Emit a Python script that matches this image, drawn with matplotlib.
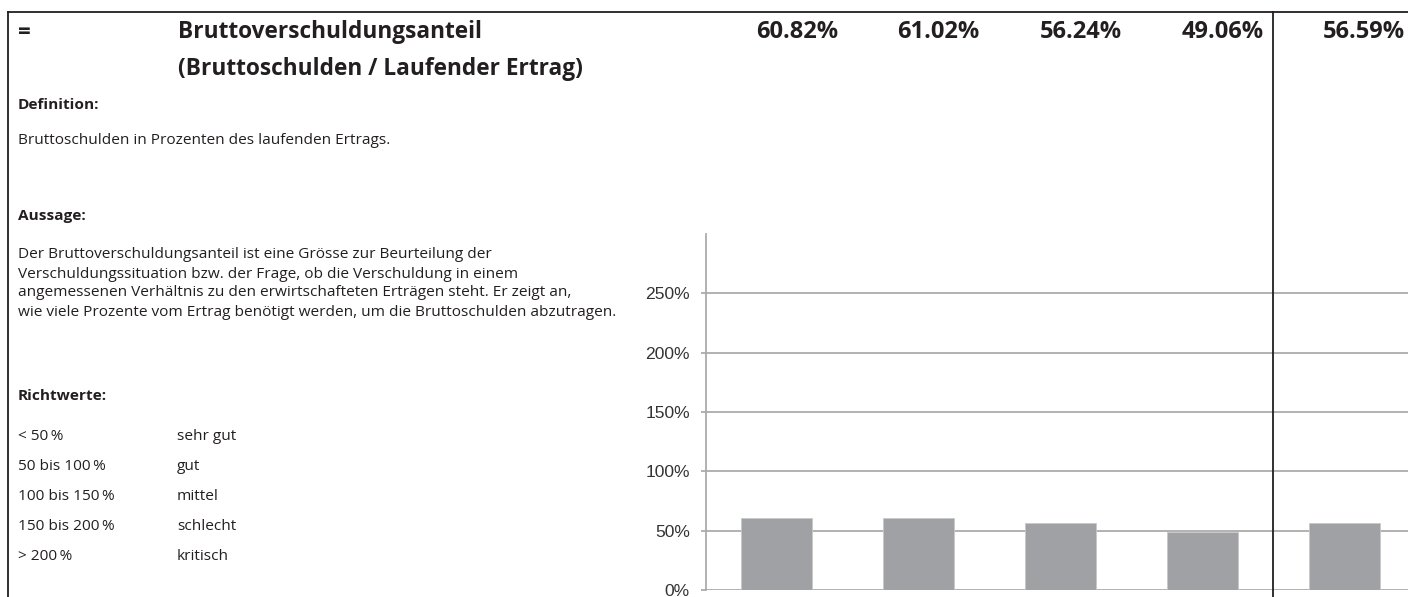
import matplotlib
matplotlib.use('Agg')
import matplotlib.pyplot as plt
import matplotlib.transforms as mtransforms
from matplotlib.lines import Line2D

years = ['2019', '2020', '2021', '2022', 'Mittel']
values = [60.82, 61.02, 56.24, 49.06, 56.59]
value_labels = ['60.82%', '61.02%', '56.24%', '49.06%', '56.59%']
yticks = [0, 50, 100, 150, 200, 250]
ytick_labels = ['0%', '50%', '100%', '150%', '200%', '250%']

definition = 'Bruttoschulden in Prozenten des laufenden Ertrags.'
aussage = ['Der Bruttoverschuldungsanteil ist eine Grösse zur Beurteilung der',
           'Verschuldungssituation bzw. der Frage, ob die Verschuldung in einem',
           'angemessenen Verhältnis zu den erwirtschafteten Erträgen steht. Er zeigt an,',
           'wie viele Prozente vom Ertrag benötigt werden, um die Bruttoschulden abzutragen.']
richt_ranges = ['< 50\u2009%', '50 bis 100\u2009%', '100 bis 150\u2009%', '150 bis 200\u2009%', '> 200\u2009%']
richt_grades = ['sehr gut', 'gut', 'mittel', 'schlecht', 'kritisch']

W, H = 1408, 597
fig = plt.figure(figsize=(W / 100, H / 100), dpi=100)

def fx(px):
    return px / W

def fy(py):
    return 1 - py / H

txt_font = ['Open Sans', 'DejaVu Sans']
dark = '#231f20'
small = 11.05

# frame lines
fig.add_artist(Line2D([fx(8), 1], [fy(12), fy(12)], color=dark, lw=1.3))
fig.add_artist(Line2D([fx(8), fx(8)], [fy(12), 0], color=dark, lw=1.3))

# header
fig.text(fx(18), fy(33), '=', fontsize=16, fontweight='bold', family=txt_font, color=dark, va='center')
fig.text(fx(178), fy(32), 'Bruttoverschuldungsanteil', fontsize=16.3, fontweight='bold',
         family=txt_font, color=dark, va='center')
fig.text(fx(178), fy(69), '(Bruttoschulden / Laufender Ertrag)', fontsize=16.3, fontweight='bold',
         family=txt_font, color=dark, va='center')

fig.text(fx(18), fy(105), 'Definition:', fontsize=small, fontweight='bold', family=txt_font, color=dark, va='center')
fig.text(fx(18), fy(141), definition, fontsize=small, family=txt_font, color=dark, va='center')
fig.text(fx(18), fy(216), 'Aussage:', fontsize=small, fontweight='bold', family=txt_font, color=dark, va='center')
for i, line in enumerate(aussage):
    fig.text(fx(18), fy(255 + i * 19), line, fontsize=small, family=txt_font, color=dark, va='center')
fig.text(fx(18), fy(396), 'Richtwerte:', fontsize=small, fontweight='bold', family=txt_font, color=dark, va='center')
for i, (r, g) in enumerate(zip(richt_ranges, richt_grades)):
    fig.text(fx(18), fy(436 + i * 30), r, fontsize=small, family=txt_font, color=dark, va='center')
    fig.text(fx(177), fy(436 + i * 30), g, fontsize=small, family=txt_font, color=dark, va='center')

# chart
ax = fig.add_axes([fx(706), fy(590), 1 - fx(706), fy(234) - fy(590)])
x = list(range(len(values)))
ax.bar(x, values, width=0.5, color='#a0a1a5', edgecolor='#c8c9cc', linewidth=0.6, zorder=3)
ax.set_xlim(-0.5, 4.45)
ax.set_ylim(0, 300)
ax.set_yticks(yticks)
ax.set_yticklabels(ytick_labels, family=['Liberation Sans', 'DejaVu Sans'], fontsize=12.6, color='#333333')
ax.set_xticks([])
ax.grid(axis='y', color='#ababab', lw=1.3, zorder=1)
ax.tick_params(axis='y', length=3.6, width=1.3, color='#ababab', pad=8)
for s in ['top', 'right', 'bottom']:
    ax.spines[s].set_visible(False)
ax.spines['left'].set_color('#ababab')
ax.spines['left'].set_linewidth(1.3)

# value labels at top
trans = mtransforms.blended_transform_factory(ax.transData, fig.transFigure)
for i, lab in enumerate(value_labels):
    ax.text(i + 0.43, fy(32), lab, transform=trans, ha='right', va='center', fontsize=17,
            fontweight='bold', family=txt_font, color=dark, clip_on=False)

# divider before the average column
ax.add_artist(Line2D([3.5, 3.5], [fy(12), 0], transform=trans, color=dark, lw=1.3, clip_on=False))

fig.savefig('out.png', dpi=100)
